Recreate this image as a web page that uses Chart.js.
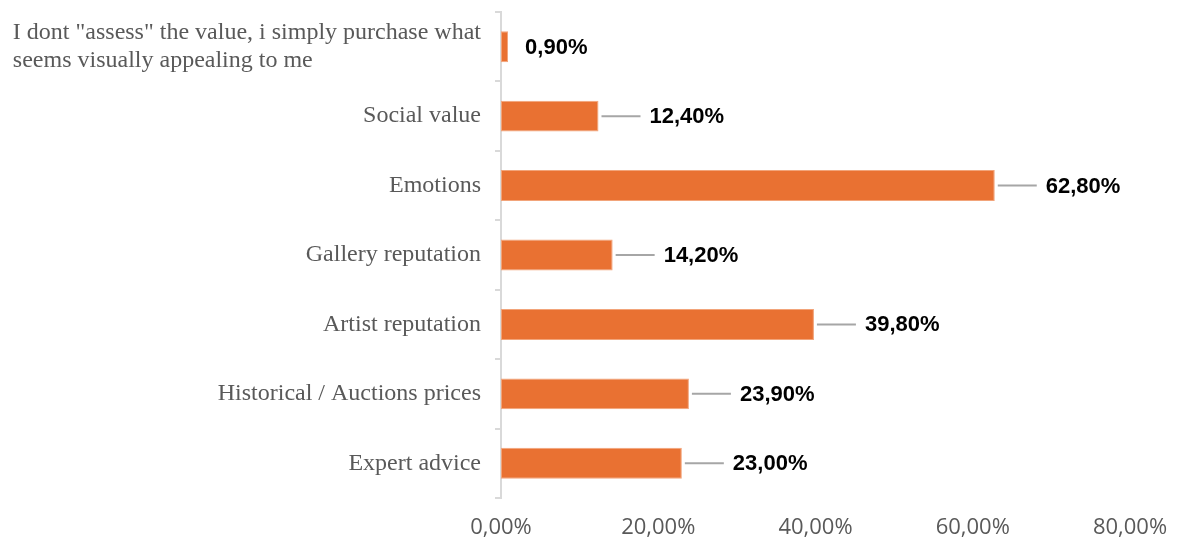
<!DOCTYPE html>
<html>
<head>
<meta charset="utf-8">
<script src="https://cdn.jsdelivr.net/npm/chart.js@4.4.1/dist/chart.umd.min.js"></script>
<style>
  html, body { margin: 0; padding: 0; background: #ffffff; }
  #wrap { width: 1180px; height: 542px; position: relative; }
</style>
</head>
<body>
<div id="wrap"><canvas id="chart"></canvas></div>
<script>
// Survey: how respondents assess the value of an artwork (share of answers, %)
const categories = [
  ['I dont "assess" the value, i simply purchase what', 'seems visually appealing to me'],
  'Social value',
  'Emotions',
  'Gallery reputation',
  'Artist reputation',
  'Historical / Auctions prices',
  'Expert advice'
];
const shares = [0.9, 12.4, 62.8, 14.2, 39.8, 23.9, 23.0];
const xTickValues = [0, 20, 40, 60, 80];

const fmt = v => v.toFixed(2).replace('.', ',') + '%';

// Category labels: right-aligned block, multi-line labels keep their lines left-aligned
const categoryLabels = {
  id: 'categoryLabels',
  afterDraw(chart) {
    const scale = chart.scales.y;
    const ctx = chart.ctx;
    const right = scale.right - 6 - 14;
    const lineH = 28;
    ctx.save();
    ctx.font = '24px "Liberation Serif", "Times New Roman", serif';
    ctx.fillStyle = '#595959';
    ctx.textBaseline = 'middle';
    ctx.textAlign = 'left';
    chart.data.labels.forEach((label, i) => {
      const lines = Array.isArray(label) ? label : [label];
      const y = scale.getPixelForTick(i);
      const w = Math.max(...lines.map(l => ctx.measureText(l).width));
      const x = right - w;
      const y0 = y - (lines.length - 1) * lineH / 2;
      lines.forEach((l, k) => ctx.fillText(l, x, y0 + k * lineH));
    });
    ctx.restore();
  }
};

// Value labels with short leader lines to the right of each bar
const valueLabels = {
  id: 'valueLabels',
  afterDatasetsDraw(chart) {
    const ctx = chart.ctx;
    const meta = chart.getDatasetMeta(0);
    ctx.save();
    ctx.font = 'bold 22px "Liberation Sans", Arial, sans-serif';
    ctx.fillStyle = '#000000';
    ctx.textBaseline = 'middle';
    ctx.textAlign = 'left';
    meta.data.forEach((bar, i) => {
      const end = bar.x;
      const y = bar.y;
      const v = shares[i];
      if (end - bar.base > 20) {
        ctx.strokeStyle = '#a6a6a6';
        ctx.lineWidth = 2;
        ctx.beginPath();
        ctx.moveTo(end + 3, y);
        ctx.lineTo(end + 42, y);
        ctx.stroke();
        ctx.fillText(fmt(v), end + 51, y + 1);
      } else {
        ctx.fillText(fmt(v), end + 17, y + 1);
      }
    });
    ctx.restore();
  }
};

new Chart(document.getElementById('chart'), {
  type: 'bar',
  data: {
    labels: categories,
    datasets: [{
      data: shares,
      backgroundColor: '#e97132',
      borderColor: '#f2a47a',
      borderWidth: 1,
      borderSkipped: false,
      categoryPercentage: 1,
      barPercentage: 0.445
    }]
  },
  options: {
    indexAxis: 'y',
    responsive: true,
    maintainAspectRatio: false,
    animation: false,
    layout: { padding: { left: 10, right: 50, top: 12, bottom: 0 } },
    plugins: {
      legend: { display: false },
      tooltip: { enabled: false }
    },
    scales: {
      x: {
        min: 0,
        max: 80,
        afterBuildTicks(scale) {
          scale.ticks = xTickValues.map(v => ({ value: v }));
        },
        afterFit(scale) {
          scale.height = 44;
          scale.paddingLeft = 0;
          scale.paddingRight = 0;
        },
        grid: { display: false, drawTicks: false },
        border: { display: false },
        ticks: {
          padding: 17,
          color: '#595959',
          font: { family: '"Open Sans", "Liberation Sans", sans-serif', size: 22 },
          callback: v => fmt(v)
        }
      },
      y: {
        afterFit(scale) {
          scale.width = 491;
          scale.paddingTop = 0;
          scale.paddingBottom = 0;
        },
        grid: {
          display: true,
          drawOnChartArea: false,
          drawTicks: true,
          tickLength: 6,
          offset: true,
          color: '#d9d9d9',
          lineWidth: 2
        },
        border: { display: true, color: '#d9d9d9', width: 2 },
        ticks: { display: false }
      }
    }
  },
  plugins: [valueLabels, categoryLabels]
});
</script>
</body>
</html>
